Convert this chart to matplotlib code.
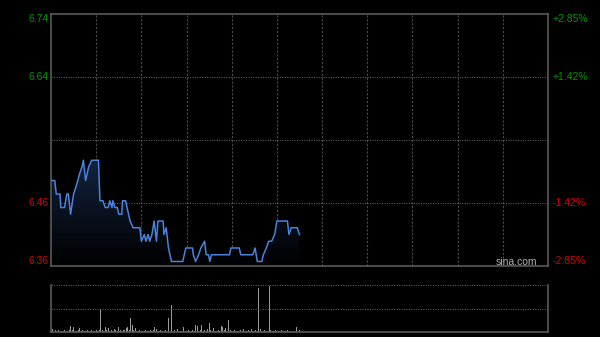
import numpy as np
import matplotlib.pyplot as plt
from matplotlib.colors import LinearSegmentedColormap

# previous close and intraday minute series (HK session, 330 minutes)
prev_close = 6.55
left_labels = ['6.74', '6.64', '6.46', '6.36']
right_labels = ['+2.85%', '+1.42%', '-1.42%', '-2.85%']

minutes = [0, 2.5, 3.5, 6, 6.5, 9, 10.5, 11.5, 13, 15, 16.5, 19, 20.5, 21.5, 23, 25, 27,
           31.5, 32.5, 34.5, 36, 38, 39, 40.5, 41, 42.5, 44, 45, 47, 47.5, 49.5,
           50.5, 52.5, 54.5, 59, 60, 62, 63, 64.5, 65.5, 67, 68.5, 70, 71, 74.5,
           75, 76.5, 78, 80, 87.5, 89.5, 94, 94.5, 96, 98, 99.5, 102, 103, 104.5,
           105.5, 106.5, 118.5, 119.5, 125, 126, 134, 135.5, 137, 140, 141, 143,
           144.5, 146.5, 148.5, 150, 157, 158, 159.5, 163.5, 165]
prices = [6.49, 6.49, 6.47, 6.47, 6.45, 6.45, 6.47, 6.47, 6.44, 6.47, 6.48, 6.50, 6.51,
          6.52, 6.49, 6.51, 6.52, 6.52, 6.46, 6.46, 6.45, 6.45, 6.46, 6.45, 6.46,
          6.45, 6.45, 6.44, 6.44, 6.46, 6.46, 6.45, 6.43, 6.42, 6.42, 6.40, 6.41,
          6.40, 6.41, 6.40, 6.41, 6.43, 6.40, 6.43, 6.43, 6.41, 6.42, 6.39, 6.37,
          6.37, 6.39, 6.39, 6.38, 6.37, 6.38, 6.39, 6.40, 6.38, 6.38, 6.37, 6.38,
          6.38, 6.39, 6.39, 6.38, 6.38, 6.39, 6.37, 6.37, 6.38, 6.39, 6.40, 6.40,
          6.41, 6.43, 6.43, 6.41, 6.42, 6.42, 6.41]

volumes = [2, 3, 17, 2, 1, 2, 3, 1, 1, 2, 1, 1, 2, 6, 2, 5, 1, 1, 2, 4,
           1, 2, 1, 1, 2, 1, 1, 2, 1, 1, 2, 1, 2, 23, 2, 1, 5, 2, 4, 1,
           2, 1, 3, 2, 1, 5, 2, 1, 2, 2, 4, 5, 2, 14, 7, 2, 4, 1, 1, 2,
           1, 1, 1, 2, 1, 1, 2, 1, 2, 5, 3, 1, 1, 2, 1, 1, 2, 2, 14, 29,
           27, 25, 2, 1, 3, 1, 1, 2, 5, 1, 1, 2, 1, 1, 2, 1, 7, 6, 1, 2,
           7, 1, 2, 1, 3, 9, 2, 1, 4, 1, 1, 2, 1, 6, 5, 2, 4, 1, 12, 2,
           1, 1, 2, 1, 1, 1, 2, 1, 3, 1, 1, 2, 1, 3, 1, 1, 2, 1, 44, 3,
           1, 1, 2, 1, 1, 46, 2, 1, 1, 2, 1, 1, 1, 2, 1, 1, 1, 2, 4, 1,
           2, 1, 2, 5, 14, 2]

bg = '#000000'
grid_c = '#4a4a4a'
frame_c = '#5a5a5a'
line_c = '#4a82dc'

fig = plt.figure(figsize=(6, 3.37), dpi=100, facecolor=bg)
plt.rcParams['font.family'] = ['Liberation Sans', 'DejaVu Sans']

ymax = prev_close * 1.0285
ymin = prev_close * 0.9715

ax = fig.add_axes([51 / 600, 71 / 337, 497 / 600, 252 / 337], facecolor=bg)
ax.set_xlim(0, 330)
ax.set_ylim(ymin, ymax)

# grid
for m in range(30, 330, 30):
    ax.axvline(m, color=grid_c, lw=0.8, ls=(0, (2, 1.5)), zorder=1)
for lv in [prev_close * 1.01425, prev_close, prev_close * 0.98575]:
    ax.axhline(lv, color='#6a6a6a', lw=0.7, ls=(0, (1, 1.5)), zorder=1)

# gradient fill under the price line
poly = ax.fill_between(minutes, prices, ymin, color='none', lw=0)
cmap = LinearSegmentedColormap.from_list('f', ['#000000', '#13223d'])
grad = np.linspace(0, 1, 256).reshape(-1, 1)
img = ax.imshow(grad, cmap=cmap, aspect='auto', origin='lower',
                extent=[0, 330, ymin, max(prices)], zorder=2)
path = poly.get_paths()[0]
img.set_clip_path(path, transform=ax.transData)
ax.plot(minutes, prices, color=line_c, lw=1.1, zorder=3)

for s in ax.spines.values():
    s.set_color(frame_c)
    s.set_linewidth(1.2)
ax.set_xticks([])
ax.set_yticks([])

levels = [ymax, prev_close * 1.01425, prev_close * 0.98575, ymin]
vas = ['top', 'center', 'center', 'bottom']
cols = ['#009600', '#009600', '#dd0000', '#dd0000']
for lv, lt, rt, va, c in zip(levels, left_labels, right_labels, vas, cols):
    ax.text(-0.005, lv, lt, transform=ax.get_yaxis_transform(), ha='right',
            va=va, color=c, fontsize=7.5)
    ax.text(1.009, lv, rt, transform=ax.get_yaxis_transform(), ha='left',
            va=va, color=c, fontsize=7.5)

ax.text(0.978, 0.017, 'sina.com', transform=ax.transAxes, ha='right',
        va='center', color='#b0b0b0', fontsize=7.5)

# volume panel
vax = fig.add_axes([51 / 600, 5 / 337, 497 / 600, 47 / 337], facecolor=bg)
vax.set_xlim(0, 330)
vax.set_ylim(0, 47)
vax.bar(np.arange(len(volumes)), volumes, width=0.6, color='#9a9a9a', lw=0)
vax.axhline(23.5, color='#6a6a6a', lw=0.7, ls=(0, (1, 1.5)))
vax.axhline(46.6, color='#6a6a6a', lw=0.7, ls=(0, (1, 1.5)))
vax.spines['top'].set_visible(False)
for k in ['left', 'right', 'bottom']:
    vax.spines[k].set_color(frame_c)
    vax.spines[k].set_linewidth(1.2)
vax.set_xticks([])
vax.set_yticks([])

fig.savefig('out.png', dpi=100, facecolor=bg)
